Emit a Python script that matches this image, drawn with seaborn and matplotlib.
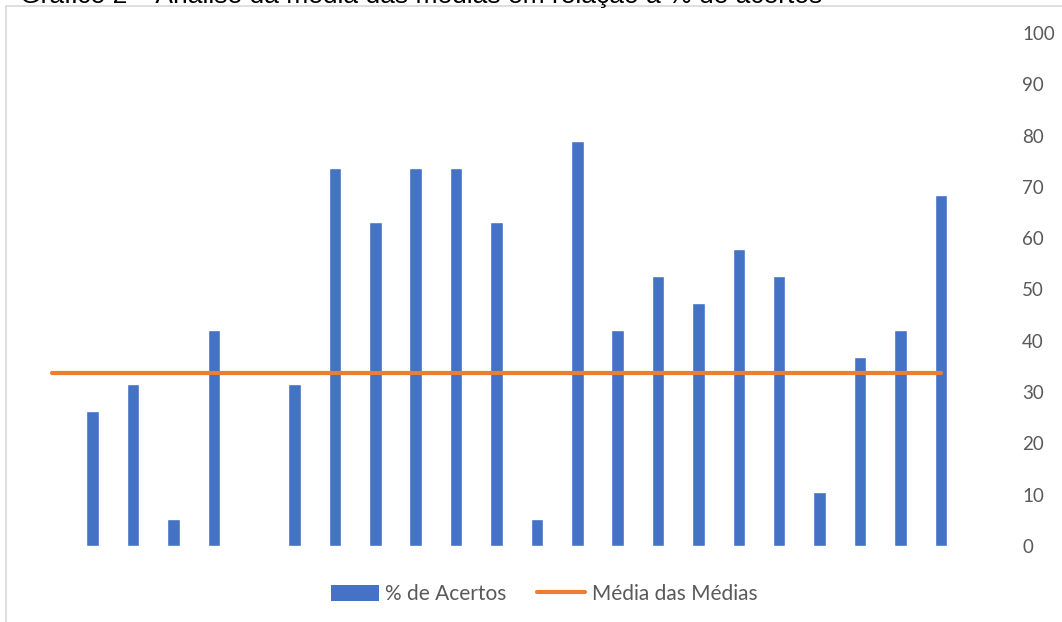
import matplotlib
matplotlib.use("Agg")
import matplotlib.pyplot as plt
from matplotlib.patches import Rectangle
from matplotlib.lines import Line2D
import seaborn as sns
import pandas as pd

# Questions of the assessment (x categories, not labelled on the chart)
questoes = [f"Q{i}" for i in range(1, 24)]
# Percentage of correct answers per question
acertos = [0, 26.3, 31.6, 5.3, 42.1, 0, 31.6, 73.7, 63.2, 73.7, 73.7, 63.2,
           5.3, 78.9, 42.1, 52.6, 47.4, 57.9, 52.6, 10.5, 36.8, 42.1, 68.4]
# Mean of the means, drawn as a flat reference line
media_das_medias = [33.7] * len(questoes)
y_ticks = [0, 10, 20, 30, 40, 50, 60, 70, 80, 90, 100]

titulo = "Gráfico 2 – Análise da média das médias em relação à % de acertos"

AZUL = "#4472C4"
LARANJA = "#ED7D31"
CINZA = "#595959"

sns.set_theme(style="white")
plt.rcParams["font.family"] = ["Lato", "DejaVu Sans"]

W, H = 1062, 622
fig = plt.figure(figsize=(W / 100, H / 100), dpi=100)
fig.patch.set_facecolor("white")

# chart frame (light grey border, continuing past the lower-right edges)
fig.patches.append(Rectangle((6 / W, -0.05), 1.2, 1 - 6 / H + 0.05,
                             transform=fig.transFigure, fill=False,
                             edgecolor="#D9D9D9", linewidth=1.2, zorder=0))

left, right = 32 / W, 961 / W
bottom, top = 1 - 546 / H, 1 - 33 / H
ax = fig.add_axes([left, bottom, right - left, top - bottom])
ax.set_facecolor("none")

df = pd.DataFrame({"questao": questoes, "acertos": acertos,
                   "media": media_das_medias, "pos": range(len(questoes))})

sns.barplot(data=df, x="questao", y="acertos", color=AZUL, width=0.31,
            saturation=1, ax=ax, zorder=2)
sns.lineplot(data=df, x="pos", y="media", color=LARANJA, linewidth=3.0,
             ax=ax, zorder=3, solid_capstyle="round")

ax.set_xlim(-0.5, len(questoes) - 0.5)
ax.set_ylim(0, 100)
ax.set_xlabel("")
ax.set_ylabel("")
ax.set_xticks([])
ax.yaxis.tick_right()
ax.set_yticks(y_ticks)
ax.set_yticklabels([str(t) for t in y_ticks])
ax.tick_params(axis="y", length=0, pad=44, labelsize=13.5, labelcolor=CINZA)
for lab in ax.get_yticklabels():
    lab.set_horizontalalignment("left")
for s in ax.spines.values():
    s.set_visible(False)

# title sits above the frame and is cut off by the top edge
fig.text(20 / W, 1 - 3 / H, titulo, ha="left", va="baseline",
         fontsize=19, color="black", family=["Liberation Sans", "DejaVu Sans"])

handles = [Rectangle((0, 0), 1, 1, facecolor=AZUL, edgecolor="none"),
           Line2D([0], [0], color=LARANJA, linewidth=3.0)]
fig.legend(handles, ["% de Acertos", "Média das Médias"],
           loc="center", bbox_to_anchor=(544 / W, 1 - 594 / H), ncol=2,
           frameon=False, fontsize=15, labelcolor=CINZA,
           handlelength=2.3, handleheight=0.8, handletextpad=0.33,
           columnspacing=1.45)

fig.savefig("out.png", dpi=100)
